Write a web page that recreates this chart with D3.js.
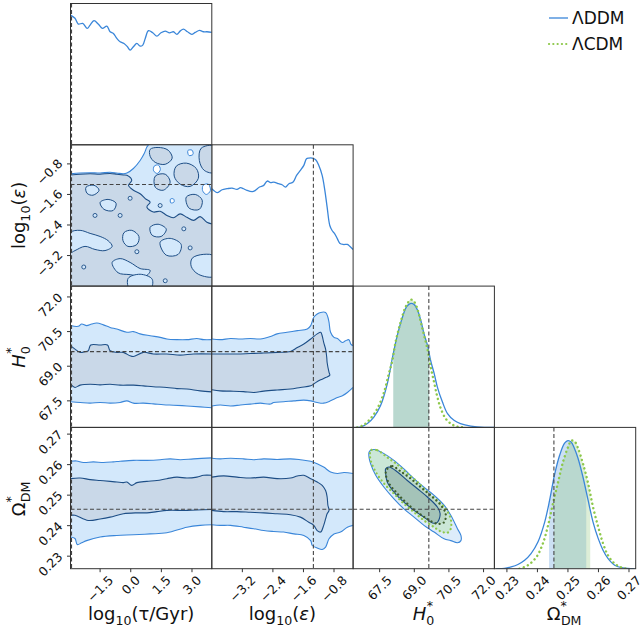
<!DOCTYPE html>
<html>
<head>
<meta charset="utf-8">
<script src="https://cdn.jsdelivr.net/npm/d3@7"></script>
<style>
  body { margin: 0; background: #fff; }
  text { font-family: "DejaVu Sans", sans-serif; fill: #111; }
</style>
</head>
<body>
<div id="corner"></div>
<script>
// ---- parameter ranges, ticks, truth values ----
const tauRange = [-2.95, 3.97];
const epsRange = [-4.0, -0.3];
const h0Range = [66.35, 72.47];
const omRange = [0.2259, 0.2722];

const tauTicks = [-1.5, 0.0, 1.5, 3.0];
const epsTicks = [-3.2, -2.4, -1.6, -0.8];
const h0Ticks = [67.5, 69.0, 70.5, 72.0];
const omTicks = [0.23, 0.24, 0.25, 0.26, 0.27];

const truthValues = [-2.9, -1.34, 69.63, 0.2454];

// ---- 1D marginals [value, relative density] ----
const tauDDM = [[-2.95,1.01],[-2.73,0.985],[-2.57,0.94],[-2.35,0.945],[-2.13,0.906],[-1.99,0.932],[-1.80,0.966],[-1.59,0.94],[-1.39,0.906],[-1.17,0.924],[-1.01,0.88],[-0.85,0.867],[-0.68,0.828],[-0.52,0.802],[-0.33,0.789],[-0.16,0.763],[-0.03,0.737],[0.13,0.763],[0.30,0.789],[0.46,0.768],[0.59,0.776],[0.71,0.828],[0.87,0.888],[1.08,0.872],[1.28,0.846],[1.48,0.872],[1.69,0.885],[1.90,0.872],[2.09,0.88],[2.26,0.86],[2.42,0.885],[2.58,0.90],[2.78,0.88],[2.99,0.86],[3.16,0.875],[3.37,0.89],[3.56,0.88],[3.73,0.88],[3.97,0.875]];

const epsDDM = [[-4.0,0.758],[-3.95,0.745],[-3.86,0.727],[-3.73,0.75],[-3.60,0.758],[-3.47,0.763],[-3.34,0.753],[-3.25,0.766],[-3.17,0.758],[-3.08,0.745],[-2.94,0.735],[-2.86,0.745],[-2.75,0.771],[-2.64,0.784],[-2.55,0.818],[-2.46,0.805],[-2.38,0.81],[-2.25,0.797],[-2.16,0.789],[-2.07,0.771],[-1.98,0.797],[-1.87,0.81],[-1.78,0.862],[-1.68,0.901],[-1.59,0.94],[-1.52,0.992],[-1.46,0.997],[-1.37,0.997],[-1.28,0.984],[-1.20,0.94],[-1.11,0.862],[-1.04,0.745],[-0.98,0.615],[-0.91,0.472],[-0.85,0.433],[-0.78,0.407],[-0.71,0.368],[-0.65,0.334],[-0.56,0.324],[-0.45,0.324],[-0.38,0.308],[-0.30,0.285]];

const h0DDM = [[66.46,0],[66.68,0.003],[66.97,0.03],[67.25,0.08],[67.54,0.17],[67.83,0.34],[68.05,0.54],[68.27,0.72],[68.49,0.86],[68.67,0.94],[68.85,0.965],[68.99,0.957],[69.14,0.913],[69.28,0.835],[69.42,0.73],[69.57,0.64],[69.71,0.52],[69.86,0.42],[70.0,0.314],[70.22,0.197],[70.44,0.107],[70.72,0.055],[71.0,0.029],[71.45,0.01],[72.03,0],[72.46,0]];
const h0CDM = [[66.53,0],[66.82,0.02],[67.11,0.07],[67.40,0.146],[67.69,0.275],[67.90,0.42],[68.05,0.52],[68.19,0.665],[68.41,0.82],[68.63,0.94],[68.85,0.995],[68.99,0.98],[69.14,0.92],[69.28,0.82],[69.42,0.72],[69.57,0.61],[69.71,0.47],[69.86,0.35],[70.0,0.236],[70.15,0.146],[70.36,0.068],[70.58,0.03],[70.87,0.005],[71.23,0]];

const omDDM = [[0.2265,0],[0.2292,0.002],[0.2314,0.014],[0.2336,0.033],[0.2358,0.066],[0.2379,0.118],[0.2402,0.21],[0.2424,0.365],[0.2440,0.534],[0.2456,0.73],[0.2473,0.885],[0.2489,0.977],[0.2500,0.997],[0.2511,0.984],[0.2521,0.938],[0.2533,0.86],[0.2549,0.716],[0.2566,0.534],[0.2582,0.365],[0.2599,0.236],[0.2615,0.144],[0.2631,0.08],[0.2653,0.027],[0.2680,0.006],[0.2718,0]];
const omCDM = [[0.2341,0],[0.2369,0.027],[0.2397,0.092],[0.2418,0.197],[0.2435,0.339],[0.2451,0.509],[0.2468,0.677],[0.2484,0.833],[0.2501,0.95],[0.2511,0.997],[0.2522,0.99],[0.2533,0.938],[0.2549,0.82],[0.2566,0.665],[0.2582,0.482],[0.2599,0.326],[0.2615,0.197],[0.2631,0.105],[0.2653,0.04],[0.2680,0.006],[0.2701,0]];

const h0BandDDM = [68.09, 69.64];
const h0BandCDM = [68.09, 69.64];
const omBandDDM = [0.2438, 0.2560];
const omBandCDM = [0.2454, 0.2573];

// ---- 2D contours ----
// tau vs eps (noisy)
const tauEpsOuter = [[-2.95,-1.06],[-2.48,-1.04],[-1.99,-1.03],[-1.50,-1.04],[-1.01,-1.02],[-0.68,-1.04],[-0.36,-1.06],[-0.19,-1.04],[0.13,-0.92],[0.46,-0.71],[0.66,-0.53],[0.79,-0.36],[0.87,-0.30]];
const tauEpsInner = [[-2.95,-1.09],[-2.48,-1.07],[-1.99,-1.06],[-1.50,-1.07],[-1.01,-1.05],[-0.68,-1.07],[-0.36,-1.09],[-0.19,-1.10],[0.05,-1.23],[-0.11,-1.36],[0.13,-1.49],[0.46,-1.58],[0.71,-1.71],[0.95,-1.80],[0.79,-1.93],[1.11,-2.06],[1.44,-2.04],[1.77,-2.15],[2.09,-2.21],[2.42,-2.11],[2.75,-2.20],[3.08,-2.28],[3.40,-2.18],[3.73,-2.33],[3.97,-2.37]];
const tauEpsInnerIslands = [
  [[0.95,-0.42],[1.34,-0.37],[1.83,-0.44],[2.03,-0.65],[1.69,-0.81],[1.20,-0.76],[0.95,-0.60]],
  [[2.23,-0.86],[2.72,-0.78],[3.21,-0.92],[3.31,-1.18],[2.91,-1.39],[2.42,-1.33],[2.13,-1.12]],
  [[3.45,-0.39],[4.1,-0.34],[4.1,-1.02],[3.60,-0.97],[3.36,-0.71]],
  [[1.20,-1.12],[1.69,-1.07],[1.93,-1.28],[1.59,-1.49],[1.20,-1.41]],
  [[2.72,-1.67],[3.16,-1.60],[3.50,-1.75],[3.36,-1.99],[2.86,-1.96]]
];
const tauEpsOuterIslands = [
  [[-2.95,-2.60],[-2.48,-2.54],[-1.99,-2.62],[-1.50,-2.70],[-1.11,-2.81],[-0.91,-2.96],[-1.26,-3.07],[-1.75,-3.04],[-2.24,-2.96],[-2.73,-3.07],[-2.95,-3.12]],
  [[-0.91,-3.38],[-0.52,-3.28],[-0.03,-3.38],[0.46,-3.54],[0.95,-3.59],[0.71,-3.75],[-0.03,-3.70],[-0.62,-3.65]],
  [[-0.33,-2.60],[0.05,-2.54],[0.40,-2.70],[0.30,-2.91],[-0.14,-2.96],[-0.38,-2.81]],
  [[-1.50,-1.81],[-1.11,-1.73],[-0.72,-1.83],[-0.86,-2.02],[-1.31,-1.99]],
  [[-2.19,-1.41],[-1.80,-1.36],[-1.55,-1.49],[-1.85,-1.62],[-2.14,-1.57]],
  [[1.44,-2.85],[1.93,-2.75],[2.47,-2.91],[2.32,-3.17],[1.74,-3.19]],
  [[3.01,-3.27],[3.55,-3.17],[4.1,-3.22],[4.1,-3.74],[3.31,-3.69],[2.96,-3.48]],
  [[0.95,-2.46],[1.34,-2.38],[1.74,-2.51],[1.49,-2.70],[1.05,-2.67]],
  [[-0.13,-3.80],[0.46,-3.69],[1.05,-3.82],[0.95,-4.1],[-0.03,-4.1]]
];
const tauEpsWhiteHoles = [
  [[1.15,-0.86],[1.35,-0.83],[1.45,-0.95],[1.30,-1.05],[1.12,-0.98]],
  [[3.55,-1.36],[3.80,-1.33],[3.90,-1.50],[3.70,-1.60],[3.52,-1.50]],
  [[2.80,-0.45],[3.00,-0.44],[3.05,-0.55],[2.85,-0.58]],
  [[1.95,-1.72],[2.10,-1.72],[2.12,-1.80],[1.96,-1.82]]
];
const tauEpsLoops = [[-0.03,-1.70],[1.44,-1.89],[2.91,-3.0],[1.69,-3.86],[-1.75,-2.15],[-0.52,-2.15],[0.3,-3.1],[2.6,-2.5],[-2.3,-3.5]];

// tau vs H0
const tauH0OuterTop = [[-2.95,70.76],[-2.57,70.73],[-2.40,70.83],[-2.16,70.76],[-1.91,70.83],[-1.66,70.87],[-1.34,70.79],[-1.01,70.68],[-0.68,70.61],[-0.19,70.47],[0.13,70.50],[0.46,70.40],[0.95,70.32],[1.44,70.25],[1.77,70.18],[2.26,70.15],[2.75,70.15],[3.24,70.20],[3.57,70.15],[3.97,70.15]];
const tauH0OuterBot = [[3.97,67.20],[3.40,67.24],[2.75,67.28],[2.09,67.31],[1.60,67.33],[1.11,67.37],[0.62,67.40],[0.13,67.40],[-0.19,67.50],[-0.52,67.43],[-1.01,67.40],[-1.50,67.43],[-1.99,67.40],[-2.48,67.43],[-2.95,67.46]];
const tauH0InnerTop = [[-2.95,69.89],[-2.73,69.74],[-2.48,69.60],[-2.24,69.63],[-2.08,69.67],[-1.96,69.92],[-1.50,69.92],[-1.14,69.92],[-1.01,69.67],[-0.68,69.60],[-0.36,69.60],[-0.03,69.45],[0.13,69.42],[0.62,69.60],[1.11,69.53],[1.77,69.53],[2.42,69.48],[3.08,69.53],[3.97,69.53]];
const tauH0InnerBot = [[3.97,67.89],[3.40,67.93],[2.75,68.01],[2.26,68.03],[1.77,68.08],[1.11,68.11],[0.62,68.15],[0.13,68.18],[-0.52,68.18],[-1.01,68.22],[-1.50,68.19],[-1.99,68.22],[-2.48,68.18],[-2.73,68.08],[-2.95,68.22]];

// eps vs H0
const epsH0OuterTop = [[-4.0,70.18],[-3.78,70.15],[-3.51,70.20],[-3.25,70.18],[-2.99,70.20],[-2.73,70.18],[-2.46,70.29],[-2.29,70.40],[-2.03,70.47],[-1.76,70.54],[-1.50,70.61],[-1.41,70.76],[-1.33,71.12],[-1.24,71.26],[-1.15,71.33],[-1.02,71.33],[-0.96,71.12],[-0.93,70.90],[-0.89,70.47],[-0.80,70.25],[-0.71,70.20],[-0.58,70.03],[-0.50,70.10],[-0.41,70.15],[-0.36,69.96],[-0.30,69.89]];
const epsH0OuterBot = [[-0.30,68.08],[-0.45,67.86],[-0.58,67.72],[-0.71,67.64],[-0.89,67.50],[-1.07,67.40],[-1.24,67.43],[-1.41,67.50],[-1.59,67.53],[-1.85,67.50],[-2.12,67.46],[-2.38,67.43],[-2.46,67.36],[-2.73,67.40],[-2.99,67.36],[-3.25,67.32],[-3.51,67.28],[-3.78,67.32],[-4.0,67.28]];
const epsH0Inner = [[-4.0,69.53],[-3.69,69.53],[-3.34,69.53],[-2.99,69.55],[-2.64,69.57],[-2.29,69.60],[-1.94,69.64],[-1.76,69.81],[-1.59,69.96],[-1.41,70.18],[-1.24,70.40],[-1.15,70.47],[-1.11,70.32],[-1.07,70.03],[-1.02,69.74],[-0.99,69.38],[-0.98,69.16],[-0.93,68.73],[-0.91,68.61],[-1.02,68.51],[-1.15,68.41],[-1.28,68.29],[-1.41,68.15],[-1.68,68.08],[-1.94,68.01],[-2.29,67.97],[-2.64,67.92],[-2.90,67.86],[-3.17,67.90],[-3.51,67.92],[-3.78,67.93],[-4.0,67.98]];

// tau vs Omega
const tauOmOuterTop = [[-2.95,0.2611],[-2.65,0.2612],[-2.32,0.2607],[-1.83,0.2609],[-1.34,0.2607],[-0.85,0.2609],[-0.52,0.2611],[0.13,0.2614],[0.79,0.2614],[1.44,0.2616],[1.93,0.2619],[2.42,0.2616],[3.08,0.2619],[3.97,0.2622]];
const tauOmOuterBot = [[3.97,0.2403],[3.40,0.2401],[2.75,0.2395],[1.77,0.2377],[0.95,0.2373],[0.13,0.2370],[-0.68,0.2368],[-1.50,0.2363],[-2.16,0.2351],[-2.40,0.2344],[-2.62,0.2338],[-2.73,0.2358],[-2.95,0.2363]];
const tauOmInnerTop = [[-2.95,0.2554],[-2.48,0.2556],[-1.99,0.2551],[-1.50,0.2548],[-1.01,0.2545],[-0.68,0.2543],[-0.36,0.2541],[-0.19,0.2543],[0.05,0.2532],[0.30,0.2541],[0.79,0.2545],[1.28,0.2548],[1.77,0.2554],[2.26,0.2559],[2.75,0.2556],[3.24,0.2559],[3.57,0.2565],[3.97,0.2565]];
const tauOmInnerBot = [[3.97,0.2453],[2.75,0.2450],[1.77,0.2450],[1.28,0.2446],[0.79,0.2442],[0.30,0.2442],[-0.36,0.2439],[-1.01,0.2428],[-1.50,0.2422],[-2.08,0.2417],[-2.73,0.2434],[-2.95,0.2434]];

// eps vs Omega
const epsOmOuterTop = [[-4.0,0.2621],[-3.78,0.2619],[-3.51,0.2621],[-3.17,0.2619],[-2.90,0.2616],[-2.64,0.2619],[-2.29,0.2617],[-1.94,0.2619],[-1.68,0.2616],[-1.41,0.2611],[-1.24,0.2603],[-1.07,0.2592],[-0.89,0.2576],[-0.71,0.2571],[-0.54,0.2574],[-0.30,0.2571]];
const epsOmOuterBot = [[-0.30,0.2401],[-0.45,0.2395],[-0.63,0.2379],[-0.80,0.2373],[-0.93,0.2357],[-1.02,0.2330],[-1.11,0.2322],[-1.24,0.2327],[-1.37,0.2335],[-1.41,0.2351],[-1.59,0.2368],[-1.85,0.2373],[-2.12,0.2379],[-2.38,0.2381],[-2.64,0.2384],[-2.90,0.2390],[-3.17,0.2395],[-3.51,0.2401],[-3.78,0.2401],[-4.0,0.2403]];
const epsOmInner = [[-4.0,0.2559],[-3.69,0.2563],[-3.34,0.2559],[-2.99,0.2556],[-2.64,0.2559],[-2.29,0.2554],[-1.94,0.2556],[-1.76,0.2563],[-1.59,0.2565],[-1.41,0.2554],[-1.24,0.2543],[-1.11,0.2532],[-1.02,0.2515],[-0.98,0.2494],[-0.96,0.2467],[-0.93,0.2450],[-0.98,0.2439],[-1.02,0.2422],[-1.07,0.2401],[-1.15,0.2379],[-1.24,0.2384],[-1.33,0.2401],[-1.46,0.2411],[-1.68,0.2428],[-1.94,0.2436],[-2.29,0.2439],[-2.64,0.2442],[-2.99,0.2444],[-3.34,0.2446],[-3.69,0.2446],[-4.0,0.2450]];

// H0 vs Omega (both models)
const h0OmOuterDDM = [[67.04,0.2641],[67.11,0.2647],[67.33,0.2649],[67.69,0.2636],[68.12,0.2614],[68.55,0.2586],[68.99,0.2554],[69.42,0.2526],[69.86,0.2499],[70.29,0.2467],[70.58,0.2434],[70.87,0.2390],[71.02,0.2368],[71.02,0.2351],[70.87,0.2344],[70.58,0.2351],[70.29,0.2357],[69.86,0.2379],[69.42,0.2401],[68.99,0.2428],[68.55,0.2455],[68.12,0.2488],[67.69,0.2526],[67.33,0.2565],[67.11,0.2603],[67.04,0.2624]];
const h0OmOuterCDM = [[67.11,0.2647],[67.40,0.2647],[67.83,0.2624],[68.27,0.2600],[68.70,0.2571],[69.14,0.2543],[69.57,0.2510],[70.0,0.2483],[70.36,0.2455],[70.58,0.2422],[70.58,0.2390],[70.44,0.2377],[70.15,0.2381],[69.86,0.2395],[69.42,0.2417],[68.99,0.2444],[68.55,0.2472],[68.12,0.2505],[67.69,0.2538],[67.33,0.2576],[67.11,0.2614],[67.08,0.2636]];
const h0OmInnerDDM = [[67.76,0.2586],[67.91,0.2592],[68.27,0.2576],[68.70,0.2548],[69.14,0.2521],[69.57,0.2494],[70.0,0.2461],[70.12,0.2439],[70.0,0.2411],[69.79,0.2409],[69.42,0.2428],[68.99,0.2450],[68.55,0.2477],[68.12,0.2510],[67.83,0.2543],[67.76,0.2571]];
const h0OmInnerCDM = [[67.83,0.2586],[68.05,0.2595],[68.41,0.2578],[68.85,0.2554],[69.28,0.2526],[69.71,0.2499],[70.15,0.2467],[70.36,0.2439],[70.29,0.2411],[70.0,0.2406],[69.57,0.2422],[69.14,0.2444],[68.70,0.2472],[68.27,0.2505],[67.91,0.2538],[67.76,0.2571]];

// ---- layout & style ----
const size = 141.3, padLeft = 70.5, padTop = 3.5;
const ddmBlue = "#3a86d9", innerLine = "#1d4e86", outerFill = "#d3e8fb", innerFill = "#c9d8e8";
const cdmGreen = "#8dc84a", frame = "#333";

const ranges = [tauRange, epsRange, h0Range, omRange];
const ticks = [tauTicks, epsTicks, h0Ticks, omTicks];
const fmts = [d3.format(".1f"), d3.format(".1f"), d3.format(".1f"), d3.format(".2f")];
const xs = ranges.map(r => d3.scaleLinear().domain(r).range([0, size]));
const ys = ranges.map(r => d3.scaleLinear().domain(r).range([size, 0]));
const dens = d3.scaleLinear().domain([0, 1.1]).range([size, 0]);

const svg = d3.select("#corner").append("svg").attr("width", 643).attr("height", 635);
const defs = svg.append("defs");
let clipN = 0;

function panel(i, j) {
  const g = svg.append("g").attr("transform", `translate(${padLeft + j * size},${padTop + i * size})`);
  const id = "clip" + (clipN++);
  defs.append("clipPath").attr("id", id).append("rect").attr("width", size).attr("height", size);
  const body = g.append("g").attr("clip-path", `url(#${id})`);
  return { g, body };
}

function dashV(body, x) {
  body.append("line").attr("x1", x).attr("x2", x).attr("y1", 0).attr("y2", size)
    .attr("stroke", "#444").attr("stroke-width", 1.1).attr("stroke-dasharray", "4,2.5");
}
function dashH(body, y) {
  body.append("line").attr("y1", y).attr("y2", y).attr("x1", 0).attr("x2", size)
    .attr("stroke", "#444").attr("stroke-width", 1.1).attr("stroke-dasharray", "4,2.5");
}
function frameBox(g) {
  g.append("rect").attr("width", size).attr("height", size)
    .attr("fill", "none").attr("stroke", frame).attr("stroke-width", 1);
}

// ---- diagonal 1D panels ----
function hist1d(k, series, bands) {
  const { g, body } = panel(k, k);
  const xsc = xs[k];
  const line = d3.line().x(d => xsc(d[0])).y(d => dens(d[1])).curve(d3.curveCatmullRom);
  const area = d3.area().x(d => xsc(d[0])).y0(dens(0)).y1(d => dens(d[1])).curve(d3.curveCatmullRom);
  series.forEach((s, n) => {
    if (!bands[n]) return;
    const id = "band" + (clipN++);
    defs.append("clipPath").attr("id", id).append("rect")
      .attr("x", xsc(bands[n][0])).attr("width", xsc(bands[n][1]) - xsc(bands[n][0]))
      .attr("y", 0).attr("height", size);
    body.append("path").attr("d", area(s.pts)).attr("clip-path", `url(#${id})`)
      .attr("fill", s.fill).attr("fill-opacity", s.op);
  });
  series.forEach(s => {
    body.append("path").attr("d", line(s.pts)).attr("fill", "none")
      .attr("stroke", s.color).attr("stroke-width", s.width)
      .attr("stroke-dasharray", s.dash).attr("stroke-linecap", s.dash ? "round" : "butt");
  });
  dashV(body, xsc(truthValues[k]));
  frameBox(g);
}

const ddmStyle = { color: ddmBlue, width: 1.3, dash: null, fill: "#5f9fdd", op: 0.32 };
const cdmStyle = { color: cdmGreen, width: 2.4, dash: "0.1,4.4", fill: "#8fc77a", op: 0.3 };

hist1d(0, [{ ...ddmStyle, pts: tauDDM }], []);
hist1d(1, [{ ...ddmStyle, pts: epsDDM }], []);
hist1d(2, [{ ...ddmStyle, pts: h0DDM }, { ...cdmStyle, pts: h0CDM }], [h0BandDDM, h0BandCDM]);
hist1d(3, [{ ...ddmStyle, pts: omDDM }, { ...cdmStyle, pts: omCDM }], [omBandDDM, omBandCDM]);

// ---- 2D panels ----
function pathGen(i, j, closed, smooth) {
  const curve = closed ? (smooth ? d3.curveCatmullRomClosed : d3.curveLinearClosed)
                       : (smooth ? d3.curveCatmullRom : d3.curveLinear);
  return d3.line().x(d => xs[j](d[0])).y(d => ys[i](d[1])).curve(curve);
}

// region: fill the closed outline, stroke only the contour lines
function region(body, i, j, lines, fill, stroke, extra) {
  const pts = lines.flat().concat(extra || []);
  body.append("path").attr("d", pathGen(i, j, true, false)(pts)).attr("fill", fill);
  return () => lines.forEach(l => body.append("path").attr("d", pathGen(i, j, false, true)(l))
      .attr("fill", "none").attr("stroke", stroke).attr("stroke-width", 1.1));
}

function finish2d(g, body, i, j) {
  dashV(body, xs[j](truthValues[j]));
  dashH(body, ys[i](truthValues[i]));
  frameBox(g);
}

// tau - eps
{
  const i = 1, j = 0, { g, body } = panel(i, j);
  const [x0, x1] = tauRange, [y0, y1] = epsRange;
  const s1 = region(body, i, j, [tauEpsOuter], outerFill, ddmBlue, [[x1 + 1, y1 + 1], [x1 + 1, y0 - 1], [x0 - 1, y0 - 1], [x0 - 1, -1.06]]);
  const s2 = region(body, i, j, [tauEpsInner], innerFill, innerLine, [[x1 + 1, y0 - 1], [x0 - 1, y0 - 1], [x0 - 1, -1.09]]);
  const closed = pathGen(i, j, true, true);
  tauEpsInnerIslands.forEach(p => body.append("path").attr("d", closed(p)).attr("fill", innerFill)
    .attr("stroke", innerLine).attr("stroke-width", 1));
  tauEpsOuterIslands.forEach(p => body.append("path").attr("d", closed(p)).attr("fill", outerFill)
    .attr("stroke", innerLine).attr("stroke-width", 1));
  tauEpsWhiteHoles.forEach(p => body.append("path").attr("d", closed(p)).attr("fill", "#fff")
    .attr("stroke", ddmBlue).attr("stroke-width", 1));
  s1(); s2();
  body.selectAll("circle.loop").data(tauEpsLoops).join("circle").attr("class", "loop")
    .attr("cx", d => xs[j](d[0])).attr("cy", d => ys[i](d[1])).attr("r", 2)
    .attr("fill", outerFill).attr("stroke", innerLine).attr("stroke-width", 0.9);
  finish2d(g, body, i, j);
}

function bandPanel(i, j, outer, inner) {
  const { g, body } = panel(i, j);
  const s1 = region(body, i, j, outer, outerFill, ddmBlue);
  const s2 = region(body, i, j, inner, innerFill, innerLine);
  s1(); s2();
  finish2d(g, body, i, j);
}
bandPanel(2, 0, [tauH0OuterTop, tauH0OuterBot], [tauH0InnerTop, tauH0InnerBot]);
bandPanel(2, 1, [epsH0OuterTop, epsH0OuterBot], [epsH0Inner]);
bandPanel(3, 0, [tauOmOuterTop, tauOmOuterBot], [tauOmInnerTop, tauOmInnerBot]);
bandPanel(3, 1, [epsOmOuterTop, epsOmOuterBot], [epsOmInner]);

// H0 - Omega
{
  const i = 3, j = 2, { g, body } = panel(i, j);
  const closed = pathGen(i, j, true, true);
  const layers = [
    [h0OmOuterDDM, "#78b4eb", 0.25],
    [h0OmOuterCDM, "#96d76e", 0.25],
    [h0OmInnerDDM, "#3c6488", 0.2],
    [h0OmInnerCDM, "#6e9664", 0.15]
  ];
  layers.forEach(([p, c, o]) => body.append("path").attr("d", closed(p)).attr("fill", c).attr("fill-opacity", o));
  body.append("path").attr("d", closed(h0OmOuterDDM)).attr("fill", "none").attr("stroke", ddmBlue).attr("stroke-width", 1.1);
  body.append("path").attr("d", closed(h0OmInnerDDM)).attr("fill", "none").attr("stroke", innerLine).attr("stroke-width", 1.1);
  body.append("path").attr("d", closed(h0OmOuterCDM)).attr("fill", "none").attr("stroke", cdmGreen)
    .attr("stroke-width", 2.2).attr("stroke-dasharray", "0.1,4.2").attr("stroke-linecap", "round");
  body.append("path").attr("d", closed(h0OmInnerCDM)).attr("fill", "none").attr("stroke", "#3f5f2c")
    .attr("stroke-width", 2.2).attr("stroke-dasharray", "0.1,4.2").attr("stroke-linecap", "round");
  finish2d(g, body, i, j);
}

// ---- axes: ticks and labels ----
const tickFont = 12.5;
for (let j = 0; j < 4; j++) {
  const g = svg.append("g").attr("transform", `translate(${padLeft + j * size},${padTop + 4 * size})`);
  ticks[j].forEach(t => {
    const x = xs[j](t);
    g.append("line").attr("x1", x).attr("x2", x).attr("y1", 0).attr("y2", 3.5).attr("stroke", frame);
    const tx = g.append("text").attr("font-size", tickFont).attr("text-anchor", "middle")
      .attr("dominant-baseline", "central").text(fmts[j](t));
    const w = tx.node().getComputedTextLength(), h = tickFont * 0.75;
    tx.attr("transform", `translate(${x},${6 + (w + h) / (2 * Math.SQRT2)}) rotate(-45)`);
  });
}
for (let i = 1; i < 4; i++) {
  const g = svg.append("g").attr("transform", `translate(${padLeft},${padTop + i * size})`);
  ticks[i].forEach(t => {
    const y = ys[i](t);
    g.append("line").attr("x1", 0).attr("x2", -3.5).attr("y1", y).attr("y2", y).attr("stroke", frame);
    const tx = g.append("text").attr("font-size", tickFont).attr("text-anchor", "middle")
      .attr("dominant-baseline", "central").text(fmts[i](t));
    const w = tx.node().getComputedTextLength(), h = tickFont * 0.75;
    const half = (w + h) / (2 * Math.SQRT2);
    tx.attr("transform", `translate(${-7 - half},${y + 8}) rotate(-45)`);
  });
}

// axis titles
const labFont = 18;
function label(text, parts) {
  parts.forEach(p => {
    const ts = text.append("tspan").text(p.t);
    if (p.it) ts.attr("font-style", "italic");
    if (p.small) ts.attr("font-size", labFont * 0.7);
    if (p.dy) ts.attr("dy", p.dy);
    if (p.dx) ts.attr("dx", p.dx);
  });
}
const titleParts = [
  [{ t: "log" }, { t: "10", small: 1, dy: 5 }, { t: "(τ/Gyr)", dy: -5 }],
  [{ t: "log" }, { t: "10", small: 1, dy: 5 }, { t: "(", dy: -5 }, { t: "ε", it: 1 }, { t: ")" }],
  [{ t: "H", it: 1 }, { t: "0", small: 1, dy: 5 }, { t: "*", small: 1, dx: -7.5, dy: -15 }, { t: "\u200a", dy: 10 }],
  [{ t: "Ω" }, { t: "*", small: 1, dy: -10 }, { t: "DM", small: 1, dx: -6, dy: 15 }, { t: "\u200a", dy: -5 }]
];
for (let j = 0; j < 4; j++) {
  const t = svg.append("text").attr("font-size", labFont).attr("text-anchor", "middle")
    .attr("x", padLeft + (j + 0.5) * size).attr("y", 620);
  label(t, titleParts[j]);
}
for (let i = 1; i < 4; i++) {
  const t = svg.append("text").attr("font-size", labFont).attr("text-anchor", "middle")
    .attr("transform", `translate(25,${padTop + (i + 0.5) * size}) rotate(-90)`);
  label(t, titleParts[i]);
}

// ---- legend ----
const legend = svg.append("g").attr("transform", "translate(549,18)");
legend.append("line").attr("x1", 0).attr("x2", 19).attr("stroke", ddmBlue).attr("stroke-width", 1.3);
legend.append("text").attr("x", 23).attr("y", 6).attr("font-size", 17).text("ΛDDM");
legend.append("line").attr("x1", 0).attr("x2", 19).attr("y1", 26).attr("y2", 26)
  .attr("stroke", cdmGreen).attr("stroke-width", 2.2).attr("stroke-dasharray", "0.1,4.2").attr("stroke-linecap", "round");
legend.append("text").attr("x", 23).attr("y", 32).attr("font-size", 17).text("ΛCDM");
</script>
</body>
</html>
